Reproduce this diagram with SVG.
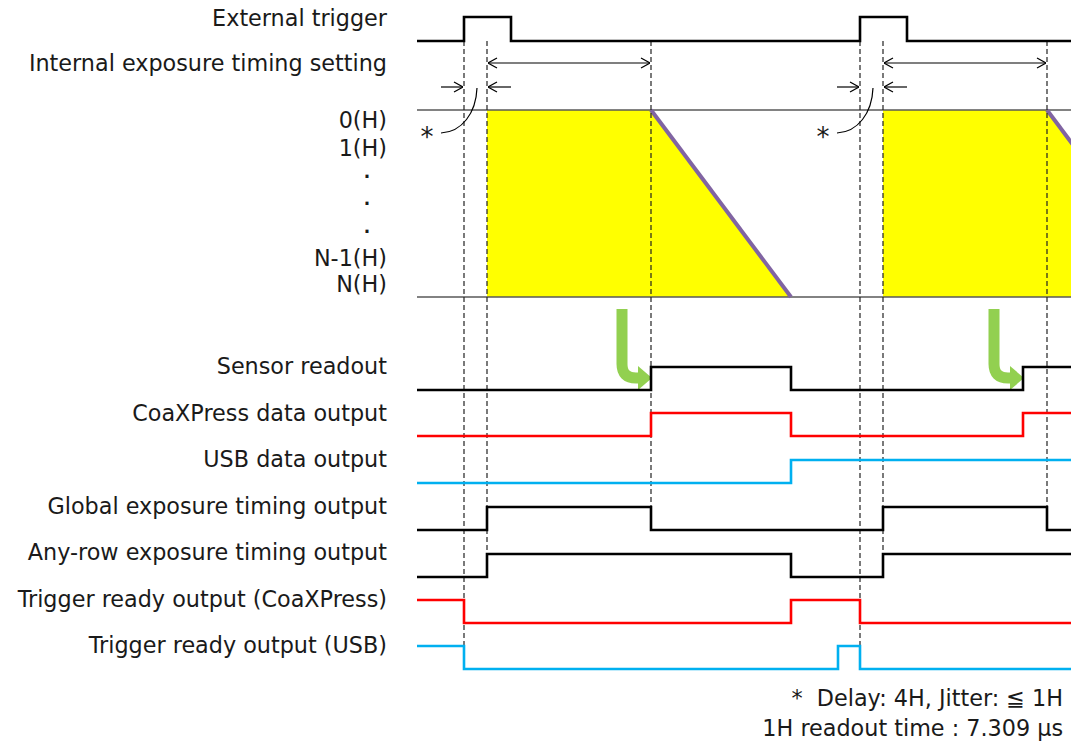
<svg xmlns="http://www.w3.org/2000/svg" width="1071" height="744" viewBox="0 0 1071 744">
<style>
text{font-family:"DejaVu Sans","Liberation Sans",sans-serif;font-size:22.3px;fill:#1a1a1a}
.lbl{text-anchor:end}
.dot{text-anchor:middle;font-weight:bold;font-size:17px}
.ast{text-anchor:middle;font-size:26px}
.sig{fill:none;stroke-width:2.6;stroke-linejoin:miter}
.blk{stroke:#000}
.red{stroke:#ff0000}
.blu{stroke:#00b0f0}
.dash{fill:none;stroke:#222;stroke-width:1.2;stroke-dasharray:5 3}
.row{stroke:#595959;stroke-width:1.5}
.thin{fill:none;stroke:#000;stroke-width:1.2}
.grn{fill:none;stroke:#92d050;stroke-width:11}
</style>
<defs>
<marker id="ah" viewBox="0 0 10 12" refX="10" refY="6" markerWidth="10" markerHeight="12" markerUnits="userSpaceOnUse" orient="auto-start-reverse">
<path d="M1,1 L10,6 L1,11" fill="none" stroke="#000" stroke-width="1.2"/>
</marker>
</defs>
<rect width="1071" height="744" fill="#fff"/>
<g id="labels">
<text class="lbl" x="387" y="26">External trigger</text>
<text class="lbl" x="387" y="71">Internal exposure timing setting</text>
<text class="lbl" x="387" y="128">0(H)</text>
<text class="lbl" x="387" y="156">1(H)</text>
<text class="dot" x="367" y="177.5">.</text>
<text class="dot" x="367" y="204.5">.</text>
<text class="dot" x="367" y="232.5">.</text>
<text class="lbl" x="387" y="266">N-1(H)</text>
<text class="lbl" x="387" y="292">N(H)</text>
<text class="lbl" x="387" y="374">Sensor readout</text>
<text class="lbl" x="387" y="421">CoaXPress data output</text>
<text class="lbl" x="387" y="467">USB data output</text>
<text class="lbl" x="387" y="514">Global exposure timing output</text>
<text class="lbl" x="387" y="560">Any-row exposure timing output</text>
<text class="lbl" x="387" y="607">Trigger ready output (CoaXPress)</text>
<text class="lbl" x="387" y="653">Trigger ready output (USB)</text>
</g>
<g id="exposure">
<polygon points="487,110 651,110 791,297 487,297" fill="#ffff00"/>
<polygon points="883,110 1047,110 1187,297 883,297" fill="#ffff00"/>
<line class="row" x1="417" y1="110" x2="1071" y2="110"/>
<line class="row" x1="417" y1="297" x2="1071" y2="297"/>
<line x1="651" y1="110" x2="791" y2="297" stroke="#8064a2" stroke-width="4"/>
<line x1="1047" y1="110" x2="1187" y2="297" stroke="#8064a2" stroke-width="4"/>
</g>
<g id="connectors">
<line class="dash" x1="464" y1="41" x2="464" y2="646"/>
<line class="dash" x1="487" y1="41" x2="487" y2="555"/>
<line class="dash" x1="651" y1="41" x2="651" y2="507"/>
<line class="dash" x1="860" y1="41" x2="860" y2="646"/>
<line class="dash" x1="883" y1="41" x2="883" y2="555"/>
<line class="dash" x1="1047" y1="41" x2="1047" y2="507"/>
<line class="thin" x1="488" y1="63" x2="650" y2="63" marker-start="url(#ah)" marker-end="url(#ah)"/>
<line class="thin" x1="884" y1="63" x2="1046" y2="63" marker-start="url(#ah)" marker-end="url(#ah)"/>
<line class="thin" x1="441" y1="87" x2="463" y2="87" marker-end="url(#ah)"/>
<line class="thin" x1="511" y1="87" x2="488" y2="87" marker-end="url(#ah)"/>
<line class="thin" x1="837" y1="87" x2="859" y2="87" marker-end="url(#ah)"/>
<line class="thin" x1="907" y1="87" x2="884" y2="87" marker-end="url(#ah)"/>
<path class="thin" d="M477,88 C476,113 462,132 441,133"/>
<path class="thin" d="M873,88 C872,113 858,132 837,133"/>
<path class="grn" d="M622,309 V364 Q622,378 636,378 H640"/>
<polygon points="638,366 652,378 638,390" fill="#92d050"/>
<path class="grn" d="M994,309 V364 Q994,378 1008,378 H1012"/>
<polygon points="1010,366 1024,378 1010,390" fill="#92d050"/>
</g>
<g id="signals">
<path id="sig-trigger" class="sig blk" d="M417,41 H464 V17 H511 V41 H860 V17 H907 V41 H1071"/>
<path id="sig-sensor" class="sig blk" d="M417,390 H651 V367 H791 V390 H1023 V367 H1071"/>
<path id="sig-cxp" class="sig red" d="M417,436 H651 V413 H791 V436 H1023 V413 H1071"/>
<path id="sig-usb" class="sig blu" d="M417,483 H791 V460 H1071"/>
<path id="sig-global" class="sig blk" d="M417,530 H487 V507 H651 V530 H883 V507 H1047 V530 H1071"/>
<path id="sig-anyrow" class="sig blk" d="M417,577 H487 V554 H791 V577 H883 V554 H1071"/>
<path id="sig-trcxp" class="sig red" d="M417,600 H464 V623 H791 V600 H860 V623 H1071"/>
<path id="sig-trusb" class="sig blu" d="M417,646 H464 V669 H838 V646 H860 V669 H1071"/>
</g>
<g id="notes">
<text class="ast" x="427" y="146">*</text>
<text class="ast" x="823" y="146">*</text>
<text x="1063" y="706" text-anchor="end" xml:space="preserve">*  Delay: 4H, Jitter: ≦ 1H</text>
<text x="1063" y="736" text-anchor="end">1H readout time : 7.309 μs</text>
</g>
</svg>
